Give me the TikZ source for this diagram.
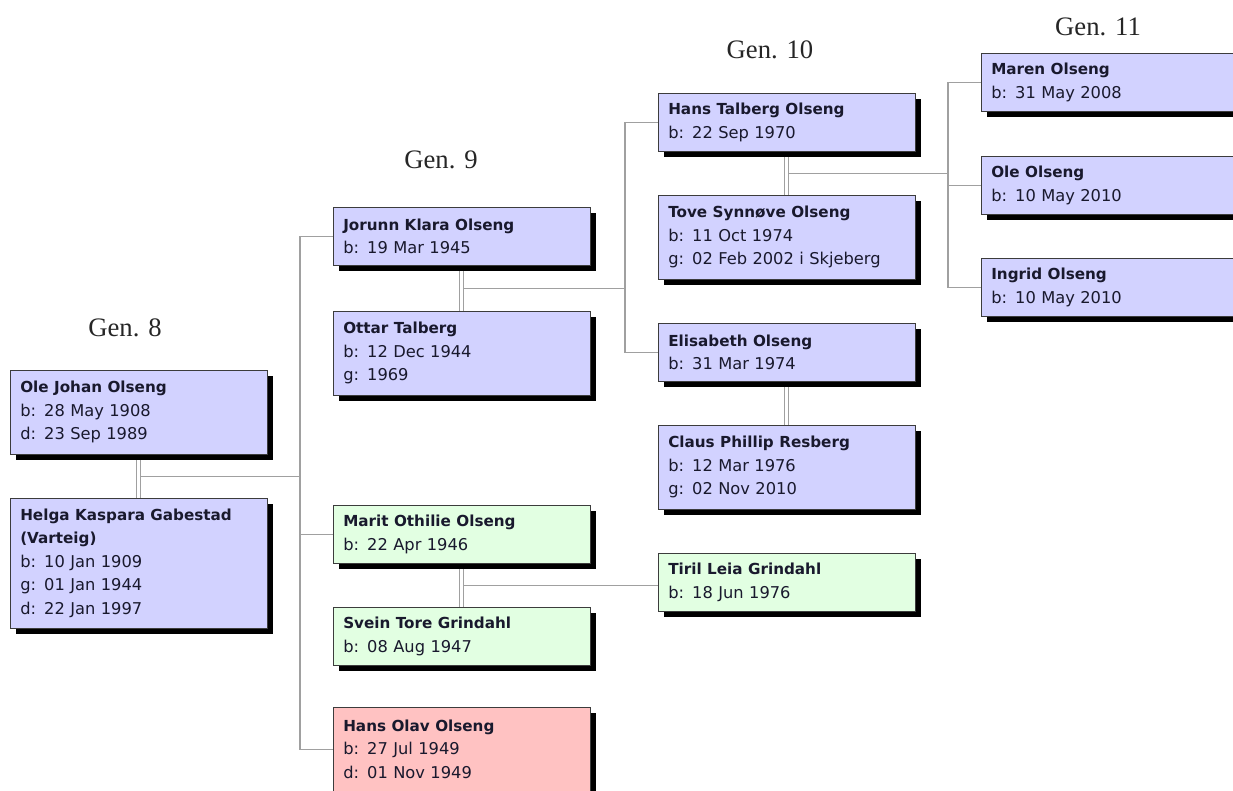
\documentclass[tikz,border=0pt]{standalone}
\usepackage{fontspec}
\setmainfont{Liberation Serif}
\newfontfamily\boxfont{DejaVu Sans}
\usetikzlibrary{backgrounds,shadows}
\definecolor{boxblue}{RGB}{210,210,255}
\definecolor{boxgreen}{RGB}{226,255,226}
\definecolor{boxred}{RGB}{255,194,194}
\definecolor{linkgray}{RGB}{160,160,160}
\definecolor{boxline}{RGB}{60,60,60}
\definecolor{boxtext}{RGB}{25,25,45}
\newcommand{\pname}[1]{{\fontsize{11.4}{17.6}\selectfont\bfseries #1}}

\begin{document}
\begin{tikzpicture}[x=0.75pt,y=-0.75pt,
person/.style={rectangle,draw=boxline,fill=boxblue,anchor=north west,inner xsep=7.5pt,inner ysep=0pt,text width=177.75pt,minimum width=192.75pt,align=left,text=boxtext,font=\boxfont\fontsize{12.2}{17.6}\selectfont,drop shadow={shadow xshift=4pt,shadow yshift=-4pt,fill=black,opacity=1}},
green/.style={fill=boxgreen}, red/.style={fill=boxred},
two/.style={minimum height=43.5pt}, three/.style={minimum height=63pt}, five/.style={minimum height=97.5pt},
gen/.style={font=\fontsize{20}{24}\selectfont,text=black!85},
link/.style={draw=linkgray,line width=1.1pt},
couple/.style={draw=linkgray,line width=1pt,double=white,double distance=2pt}]
\useasboundingbox (0,0) rectangle (1233,790);
\node(g8)[gen] at (125,328) {Gen. 8};
\node(g9)[gen] at (441,160) {Gen. 9};
\node(g10)[gen] at (770,50) {Gen. 10};
\node(g11)[gen] at (1098,27) {Gen. 11};
\node(ole)[person,three] at (10,370) {\pname{Ole Johan Olseng}\\b: 28 May 1908\\d: 23 Sep 1989};
\node(helga)[person,five] at (10,498) {\pname{Helga Kaspara Gabestad}\\\pname{(Varteig)}\\b: 10 Jan 1909\\g: 01 Jan 1944\\d: 22 Jan 1997};
\node(jorunn)[person,two] at (333,207) {\pname{Jorunn Klara Olseng}\\b: 19 Mar 1945};
\node(ottar)[person,three] at (333,311) {\pname{Ottar Talberg}\\b: 12 Dec 1944\\g: 1969};
\node(marit)[person,two,green] at (333,505) {\pname{Marit Othilie Olseng}\\b: 22 Apr 1946};
\node(svein)[person,two,green] at (333,607) {\pname{Svein Tore Grindahl}\\b: 08 Aug 1947};
\node(hansolav)[person,three,red] at (333,707) {\pname{Hans Olav Olseng}\\b: 27 Jul 1949\\d: 01 Nov 1949};
\node(hanst)[person,two] at (658,93) {\pname{Hans Talberg Olseng}\\b: 22 Sep 1970};
\node(tove)[person,three] at (658,195) {\pname{Tove Synnøve Olseng}\\b: 11 Oct 1974\\g: 02 Feb 2002 i Skjeberg};
\node(elisabeth)[person,two] at (658,323) {\pname{Elisabeth Olseng}\\b: 31 Mar 1974};
\node(claus)[person,three] at (658,425) {\pname{Claus Phillip Resberg}\\b: 12 Mar 1976\\g: 02 Nov 2010};
\node(tiril)[person,two,green] at (658,553) {\pname{Tiril Leia Grindahl}\\b: 18 Jun 1976};
\node(maren)[person,two] at (981,53) {\pname{Maren Olseng}\\b: 31 May 2008};
\node(oleo)[person,two] at (981,156) {\pname{Ole Olseng}\\b: 10 May 2010};
\node(ingrid)[person,two] at (981,258) {\pname{Ingrid Olseng}\\b: 10 May 2010};
\begin{scope}[on background layer]
\path (ole.south) -- (helga.north) coordinate[midway] (m8);
\path (jorunn.south) -- (ottar.north) coordinate[midway] (m9);
\path (marit.south) -- (svein.north) coordinate[midway] (m9b);
\path (hanst.south) -- (tove.north) coordinate[midway] (m10);
% gen 9 children
\draw[link] (jorunn.west) -- ++(-33,0) coordinate (tr9) |- (hansolav.west);
\draw[link] (marit.west) -- (marit.west -| tr9);
\draw[link] (m8) -- (m8 -| tr9);
% gen 10 children
\draw[link] (hanst.west) -- ++(-33,0) coordinate (tr10) |- (elisabeth.west);
\draw[link] (m9) -- (m9 -| tr10);
\draw[link] (m9b) -- (m9b -| tiril.west);
% gen 11 children
\draw[link] (maren.west) -- ++(-33,0) coordinate (tr11) |- (ingrid.west);
\draw[link] (oleo.west) -- (oleo.west -| tr11);
\draw[link] (m10) -- (m10 -| tr11);
% couples
\draw[couple] (ole.south) -- (helga.north);
\draw[couple] (jorunn.south) -- (ottar.north);
\draw[couple] (marit.south) -- (svein.north);
\draw[couple] (hanst.south) -- (tove.north);
\draw[couple] (elisabeth.south) -- (claus.north);
\end{scope}
\end{tikzpicture}
\end{document}
